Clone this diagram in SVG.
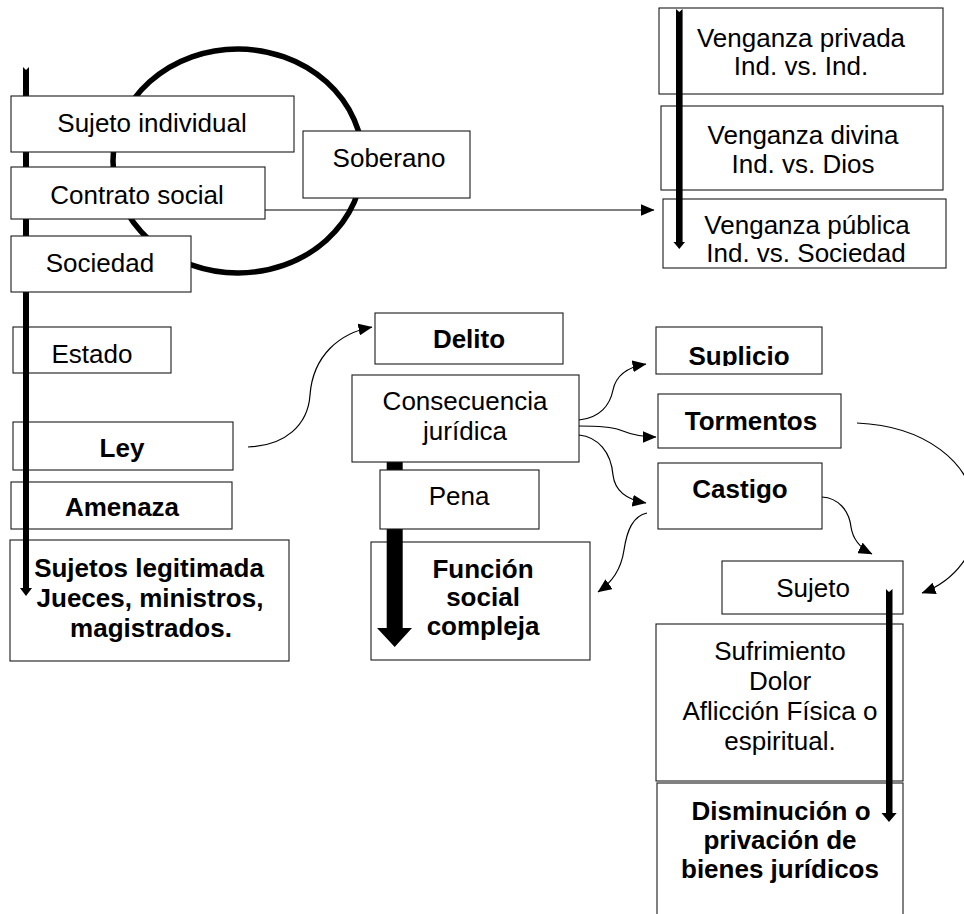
<svg xmlns="http://www.w3.org/2000/svg" width="964" height="914" viewBox="0 0 964 914">
  <defs>
    <style>
      .box { fill: #ffffff; stroke: #1a1a1a; stroke-width: 1.1; }
      .t { font-family: "Liberation Sans", Arial, sans-serif; font-size: 26px; fill: #000; text-anchor: middle; }
      .b { font-weight: bold; }
      .link { fill: none; stroke: #000; stroke-width: 1.2; }
      .heavy { fill: #000; stroke: none; }
    </style>
    <marker id="head" markerUnits="userSpaceOnUse" markerWidth="14" markerHeight="12" viewBox="0 0 14 12" refX="13.5" refY="6" orient="auto">
      <path d="M0,0 L14,6 L0,12 z" fill="#000"/>
    </marker>
    <clipPath id="clip-suplicio">
      <rect x="656" y="327" width="166" height="39"/>
    </clipPath>
  </defs>

  <rect width="964" height="914" fill="#ffffff"/>

  <!-- lower left column (the timeline arrow runs over these) -->
  <g id="estado">
    <rect class="box" x="13" y="327" width="158" height="46"/>
    <text class="t" x="92" y="363">Estado</text>
  </g>
  <g id="ley">
    <rect class="box" x="13" y="422" width="220" height="48"/>
    <text class="t b" x="122" y="457">Ley</text>
  </g>
  <g id="amenaza">
    <rect class="box" x="11" y="482" width="221" height="47"/>
    <text class="t b" x="122" y="516">Amenaza</text>
  </g>
  <g id="sujetos-legitimada">
    <rect class="box" x="10" y="540" width="279" height="121"/>
    <text class="t b" x="149" y="577">Sujetos legitimada</text>
    <text class="t b" x="150" y="607">Jueces, ministros,</text>
    <text class="t b" x="151" y="637">magistrados.</text>
  </g>

  <!-- timeline arrow, left column -->
  <g id="timeline-left">
    <polygon class="heavy" points="23,67 26,70 29,67 29,588 32,588 26,596 20,588 23,588"/>
  </g>

  <!-- social contract circle -->
  <ellipse cx="238" cy="161" rx="125" ry="112" fill="none" stroke="#000" stroke-width="5.5"/>

  <!-- upper left column (drawn over the circle and the timeline) -->
  <g id="sujeto-individual">
    <rect class="box" x="11" y="96" width="283" height="56"/>
    <text class="t" x="152" y="132">Sujeto individual</text>
  </g>
  <g id="contrato-social">
    <rect class="box" x="11" y="167" width="254" height="52"/>
    <text class="t" x="137" y="204">Contrato social</text>
  </g>
  <g id="sociedad">
    <rect class="box" x="11" y="236" width="180" height="56"/>
    <text class="t" x="100" y="272">Sociedad</text>
  </g>
  <g id="soberano">
    <rect class="box" x="303" y="131" width="167" height="67"/>
    <text class="t" x="389" y="167">Soberano</text>
  </g>

  <!-- stages of vengeance -->
  <g id="venganza-privada">
    <rect class="box" x="659" y="8" width="284" height="86"/>
    <text class="t" x="801" y="47">Venganza privada</text>
    <text class="t" x="801" y="75">Ind. vs. Ind.</text>
  </g>
  <g id="venganza-divina">
    <rect class="box" x="661" y="106" width="282" height="84"/>
    <text class="t" x="803" y="144">Venganza divina</text>
    <text class="t" x="803" y="173">Ind. vs. Dios</text>
  </g>
  <g id="venganza-publica">
    <rect class="box" x="663" y="199" width="283" height="69"/>
    <text class="t" x="807" y="234">Venganza pública</text>
    <text class="t" x="806" y="262">Ind. vs. Sociedad</text>
  </g>
  <g id="timeline-venganza">
    <polygon class="heavy" points="676,9 679.3,12 682.6,9 682.6,242 685,242 679.3,249 673.5,242 676,242"/>
  </g>

  <!-- centre column -->
  <g id="delito">
    <rect class="box" x="375" y="313" width="188" height="51"/>
    <text class="t b" x="469" y="348">Delito</text>
  </g>
  <g id="funcion-social">
    <rect class="box" x="371" y="542" width="219" height="118"/>
    <text class="t b" x="483" y="578">Función</text>
    <text class="t b" x="483" y="606">social</text>
    <text class="t b" x="483" y="635">compleja</text>
  </g>
  <g id="pena-arrow">
    <polygon class="heavy" points="386.7,460 402.7,460 402.7,628 412,628 394.7,647 377,628 386.7,628"/>
  </g>
  <g id="pena">
    <rect class="box" x="380" y="470" width="159" height="59"/>
    <text class="t" x="459" y="505">Pena</text>
  </g>
  <g id="consecuencia-juridica">
    <rect class="box" x="352" y="375" width="227" height="87"/>
    <text class="t" x="465" y="410">Consecuencia</text>
    <text class="t" x="465" y="440">jurídica</text>
  </g>

  <!-- right column -->
  <g id="suplicio">
    <rect class="box" x="656" y="327" width="166" height="47"/>
    <text class="t b" x="739" y="365" clip-path="url(#clip-suplicio)">Suplicio</text>
  </g>
  <g id="tormentos">
    <rect class="box" x="658" y="394" width="183" height="54"/>
    <text class="t b" x="751" y="430">Tormentos</text>
  </g>
  <g id="castigo">
    <rect class="box" x="658" y="463" width="164" height="66"/>
    <text class="t b" x="740" y="498">Castigo</text>
  </g>
  <g id="sujeto">
    <rect class="box" x="722" y="561" width="181" height="53"/>
    <text class="t" x="813" y="597">Sujeto</text>
  </g>
  <g id="sufrimiento">
    <rect class="box" x="656" y="624" width="247" height="157"/>
    <text class="t" x="780" y="660">Sufrimiento</text>
    <text class="t" x="780" y="690">Dolor</text>
    <text class="t" x="780" y="720">Aflicción Física o</text>
    <text class="t" x="780" y="750">espiritual.</text>
  </g>
  <g id="disminucion">
    <rect class="box" x="657" y="783" width="246" height="150"/>
    <text class="t b" x="781" y="820">Disminución o</text>
    <text class="t b" x="780" y="849">privación de</text>
    <text class="t b" x="780" y="878">bienes jurídicos</text>
  </g>
  <g id="timeline-sujeto">
    <polygon class="heavy" points="886,589 889,592 892.5,589 892.5,813 896.7,813 889,822 881.5,813 886,813"/>
  </g>

  <!-- connectors -->
  <g id="connectors">
    <path class="link" d="M265,210 L654,210" marker-end="url(#head)"/>
    <path class="link" d="M248,447 C285,446 308,425 310,395 C313,355 340,333 372,327" marker-end="url(#head)"/>
    <path class="link" d="M579,420 C600,418 610,405 613,390 C616,375 628,367 646,364" marker-end="url(#head)"/>
    <path class="link" d="M579,426 C600,426 612,427 620,430 C630,434 640,437 656,437" marker-end="url(#head)"/>
    <path class="link" d="M579,435 C598,437 611,452 613,475 C615,492 628,500 646,503" marker-end="url(#head)"/>
    <path class="link" d="M647,513 C633,516 627,530 624,550 C621,570 612,582 598,592" marker-end="url(#head)"/>
    <path class="link" d="M822,497 C838,498 849,510 851,527 C853,540 860,548 872,554" marker-end="url(#head)"/>
    <path class="link" d="M857,423 C925,426 972,462 975,510 C982,552 952,582 922,593" marker-end="url(#head)"/>
  </g>
</svg>
